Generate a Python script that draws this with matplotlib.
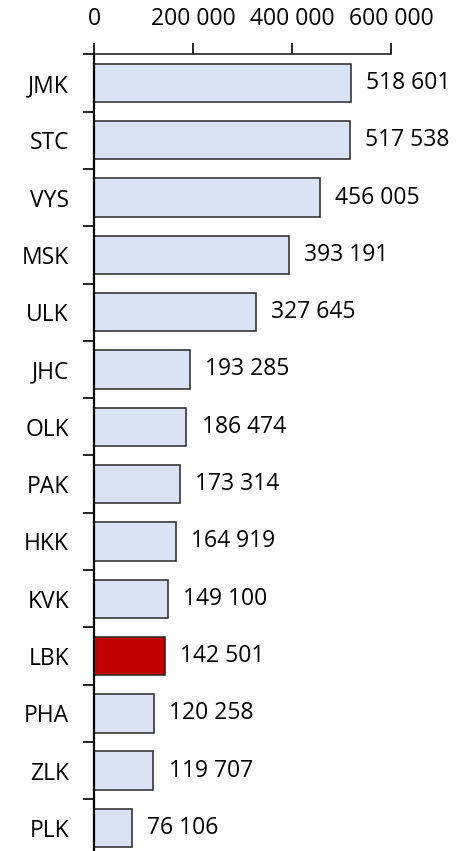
import matplotlib
matplotlib.use("Agg")
from matplotlib import pyplot as plt
from matplotlib.ticker import FixedLocator, FuncFormatter
import numpy as np

regions = ["JMK", "STC", "VYS", "MSK", "ULK", "JHC", "OLK",
           "PAK", "HKK", "KVK", "LBK", "PHA", "ZLK", "PLK"]
values = [518601, 517538, 456005, 393191, 327645, 193285, 186474,
          173314, 164919, 149100, 142501, 120258, 119707, 76106]
highlight = "LBK"
x_ticks = [0, 200000, 400000, 600000]


def fmt_space(v, pos=None):
    # thousands separated by a space, like the original
    return f"{int(v):,}".replace(",", " ")


plt.rcParams["font.family"] = ["Open Sans", "DejaVu Sans"]
plt.rcParams["font.size"] = 16.5

fig = plt.figure(figsize=(4.57, 8.51), dpi=100)
ax = fig.add_axes([94 / 457, -5.6 / 851, (391 - 94) / 457, (856.6 - 54.3) / 851])

y = np.arange(len(regions))
colors = ["#c00000" if r == highlight else "#dae3f3" for r in regions]
bars = ax.barh(y, values, height=0.67, color=colors, edgecolor="#262626", linewidth=1.1)
ax.bar_label(bars, labels=[fmt_space(v) for v in values], padding=11, fontsize=16.5)

ax.set_xlim(0, 600000)
ax.set_ylim(len(regions) - 0.5, -0.5)

# x axis on top
ax.xaxis.tick_top()
ax.set_xticks(x_ticks)
ax.xaxis.set_major_formatter(FuncFormatter(fmt_space))
ax.tick_params(axis="x", direction="out", length=8, width=1.2, pad=9, colors="black")

# category labels at centres, tick marks at boundaries
ax.set_yticks(y)
ax.set_yticklabels(regions)
ax.yaxis.set_minor_locator(FixedLocator(np.arange(-0.5, len(regions), 1)))
ax.tick_params(axis="y", which="major", length=0, pad=18)
ax.tick_params(axis="y", which="minor", length=8, width=1.2, direction="out")

for side in ["right", "bottom"]:
    ax.spines[side].set_visible(False)
ax.spines["left"].set_linewidth(1.6)
ax.spines["top"].set_linewidth(1.2)
ax.spines["top"].set_color("#222222")

fig.savefig("out.png", dpi=100)
